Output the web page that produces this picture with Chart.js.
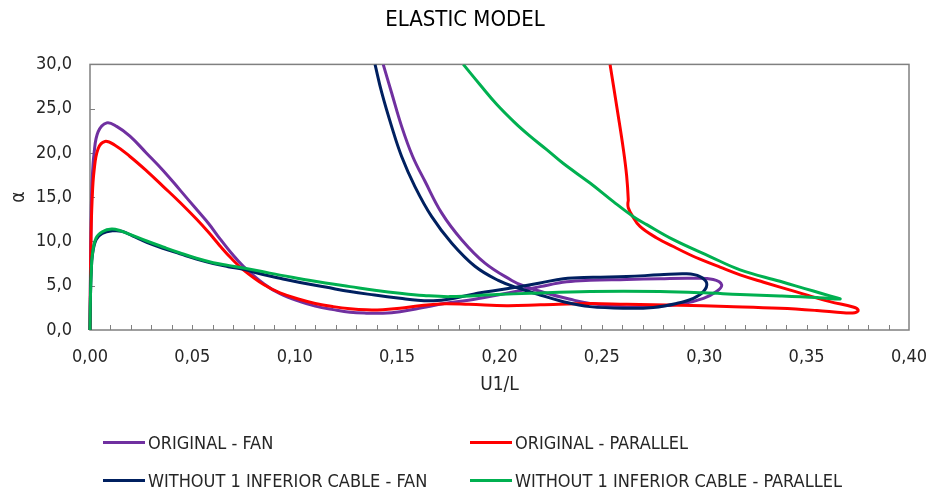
<!DOCTYPE html>
<html>
<head>
<meta charset="utf-8">
<title>Elastic model</title>
<script src="https://cdn.jsdelivr.net/npm/chart.js@4.4.1/dist/chart.umd.min.js"></script>
<style>
  html, body { margin: 0; padding: 0; background: #fff; }
  #wrap { position: relative; width: 930px; height: 491px; }
  #chart { display: block; }
  #legend {
    position: absolute; left: 0; top: 0; width: 930px; height: 491px;
    pointer-events: none; color: #262626; font-size: 18px;
    font-family: "DejaVu Sans Condensed", "Liberation Sans Narrow", sans-serif;
  }
  .item { position: absolute; display: flex; align-items: center; height: 24px; white-space: nowrap; }
  .swatch { width: 42px; height: 3px; margin-right: 3px; }
</style>
</head>
<body>
<div id="wrap">
  <canvas id="chart" width="930" height="491"></canvas>
  <div id="legend"></div>
</div>
<script>
const FONT = '"DejaVu Sans Condensed", "Liberation Sans Narrow", sans-serif';

// series names, in legend order
const seriesLabels = [
  'ORIGINAL - FAN',
  'ORIGINAL - PARALLEL',
  'WITHOUT 1 INFERIOR CABLE - FAN',
  'WITHOUT 1 INFERIOR CABLE - PARALLEL'
];
const seriesColors = ['#7030A0', '#FF0000', '#002060', '#00B050'];

// tick labels (comma decimals)
const xTickLabels = ['0,00', '0,05', '0,10', '0,15', '0,20', '0,25', '0,30', '0,35', '0,40'];
const yTickLabels = ['0,0', '5,0', '10,0', '15,0', '20,0', '25,0', '30,0'];

// ORIGINAL - FAN (U1/L, alpha) along the path
const origFanX = [0, 0.0002, 0.0005, 0.001, 0.002, 0.004, 0.0082, 0.013, 0.0195, 0.0275, 0.0358, 0.044, 0.0521, 0.058, 0.0635, 0.069, 0.0749, 0.085, 0.0928, 0.1026, 0.11, 0.1188, 0.127, 0.135, 0.143, 0.1514, 0.162, 0.173, 0.1872, 0.2035, 0.2198, 0.2328, 0.2442, 0.2621, 0.2784, 0.2947, 0.3044, 0.3085, 0.306, 0.2996, 0.2898, 0.2784, 0.2621, 0.2442, 0.234, 0.223, 0.2116, 0.206, 0.1929, 0.1815, 0.1718, 0.1636, 0.1576, 0.1522, 0.1473, 0.1432];
const origFanY = [0, 6, 12, 16.5, 20, 22.4, 23.4, 23.0, 21.9, 20.0, 18.0, 15.8, 13.6, 12.0, 10.3, 8.7, 7.2, 5.2, 4.1, 3.2, 2.7, 2.3, 2.0, 1.9, 1.9, 2.07, 2.5, 3.0, 3.45, 4.15, 4.9, 5.45, 5.62, 5.7, 5.8, 5.85, 5.7, 5.1, 4.34, 3.58, 3.0, 2.72, 2.6, 3.0, 3.5, 4.15, 5.0, 5.6, 7.55, 10.2, 13.2, 16.8, 19.6, 23.0, 26.8, 30];

// ORIGINAL - PARALLEL
const origParX = [0, 0.0002, 0.0005, 0.001, 0.002, 0.004, 0.0073, 0.012, 0.0195, 0.0275, 0.0358, 0.044, 0.0521, 0.058, 0.0635, 0.069, 0.0749, 0.085, 0.0928, 0.1026, 0.11, 0.1188, 0.127, 0.135, 0.143, 0.1514, 0.161, 0.1709, 0.185, 0.2035, 0.22, 0.2442, 0.2621, 0.288, 0.311, 0.337, 0.355, 0.368, 0.3735, 0.3752, 0.3727, 0.3614, 0.345, 0.329, 0.3175, 0.3077, 0.2979, 0.293, 0.2849, 0.2768, 0.2686, 0.2646, 0.2629, 0.2627, 0.2629, 0.2621, 0.2605, 0.2575, 0.254];
const origParY = [0, 5, 10.5, 14.5, 18, 20.5, 21.3, 20.9, 19.6, 18.0, 16.2, 14.4, 12.5, 11.0, 9.5, 8.1, 6.8, 5.1, 4.2, 3.45, 3.0, 2.64, 2.4, 2.28, 2.3, 2.45, 2.75, 2.95, 2.9, 2.75, 2.85, 3.0, 2.9, 2.8, 2.65, 2.45, 2.2, 1.95, 1.95, 2.25, 2.6, 3.2, 4.3, 5.4, 6.23, 7.1, 8.0, 8.5, 9.43, 10.4, 11.7, 13.0, 13.8, 14.3, 14.7, 17.4, 20.4, 24.9, 30];

// WITHOUT 1 INFERIOR CABLE - FAN
const noCabFanX = [0, 0.0002, 0.0006, 0.0012, 0.003, 0.006, 0.011, 0.0155, 0.021, 0.0277, 0.036, 0.044, 0.052, 0.0602, 0.0675, 0.0749, 0.084, 0.0928, 0.1026, 0.115, 0.127, 0.139, 0.1514, 0.16, 0.1677, 0.1758, 0.1872, 0.2035, 0.2198, 0.2312, 0.2458, 0.2621, 0.2784, 0.2914, 0.2979, 0.3012, 0.2996, 0.2947, 0.2865, 0.2751, 0.2621, 0.2442, 0.2312, 0.2198, 0.2084, 0.1994, 0.188, 0.1767, 0.1669, 0.1587, 0.1522, 0.1473, 0.1425, 0.1392];
const noCabFanY = [0, 3.5, 6.5, 8.5, 10.2, 10.9, 11.2, 11.15, 10.6, 9.9, 9.2, 8.6, 8.0, 7.5, 7.15, 6.85, 6.3, 5.85, 5.36, 4.85, 4.34, 3.95, 3.58, 3.35, 3.3, 3.5, 4.05, 4.65, 5.3, 5.8, 5.95, 6.04, 6.23, 6.34, 6.04, 5.28, 4.34, 3.58, 3.0, 2.55, 2.45, 2.64, 3.2, 3.96, 4.8, 5.6, 7.2, 9.8, 12.8, 16.2, 19.6, 23.0, 26.8, 30];

// WITHOUT 1 INFERIOR CABLE - PARALLEL
const noCabParX = [0, 0.0002, 0.0006, 0.0012, 0.003, 0.006, 0.0106, 0.015, 0.0195, 0.0277, 0.036, 0.044, 0.052, 0.0602, 0.0675, 0.0749, 0.084, 0.0928, 0.1026, 0.115, 0.127, 0.139, 0.1514, 0.163, 0.1758, 0.1986, 0.2149, 0.2442, 0.2784, 0.3, 0.3175, 0.337, 0.355, 0.3663, 0.3614, 0.3533, 0.345, 0.337, 0.3175, 0.3028, 0.2849, 0.2719, 0.2654, 0.2556, 0.2442, 0.2312, 0.2229, 0.2149, 0.2076, 0.1986, 0.1905, 0.1823];
const noCabParY = [0, 3.5, 6.5, 8.6, 10.4, 11.1, 11.4, 11.2, 10.8, 10.05, 9.35, 8.7, 8.1, 7.6, 7.3, 7.0, 6.6, 6.2, 5.8, 5.3, 4.9, 4.5, 4.15, 3.9, 3.77, 4.0, 4.15, 4.34, 4.34, 4.2, 4.0, 3.85, 3.67, 3.5, 3.85, 4.4, 4.95, 5.5, 6.8, 8.3, 10.2, 11.9, 12.8, 14.5, 16.6, 18.8, 20.4, 21.9, 23.4, 25.5, 27.7, 30];

const seriesX = [origFanX, origParX, noCabFanX, noCabParX];
const seriesY = [origFanY, origParY, noCabFanY, noCabParY];

function toPoints(xs, ys) {
  return xs.map(function(x, i) { return { x: x, y: ys[i] }; });
}

// frame round the plot area and small inward tick marks
const frameAndTicks = {
  id: 'frameAndTicks',
  beforeDatasetsDraw: function(chart) {
    const ctx = chart.ctx;
    const a = chart.chartArea;
    const xs = chart.scales.x;
    const ys = chart.scales.y;
    ctx.save();
    ctx.strokeStyle = '#808080';
    ctx.lineWidth = 1.5;
    ctx.strokeRect(a.left, a.top, a.right - a.left, a.bottom - a.top);
    ctx.lineWidth = 1;
    ctx.beginPath();
    for (let i = 1; i < 40; i++) {
      const px = Math.round(xs.getPixelForValue(i / 100)) + 0.5;
      ctx.moveTo(px, a.bottom);
      ctx.lineTo(px, a.bottom - 5);
    }
    for (let v = 5; v < 30; v += 5) {
      const py = Math.round(ys.getPixelForValue(v)) + 0.5;
      ctx.moveTo(a.left, py);
      ctx.lineTo(a.left + 5, py);
    }
    ctx.stroke();
    ctx.restore();
  }
};

const datasets = seriesLabels.map(function(label, i) {
  return {
    label: label,
    data: toPoints(seriesX[i], seriesY[i]),
    borderColor: seriesColors[i],
    backgroundColor: seriesColors[i],
    borderWidth: 3,
    showLine: true,
    pointRadius: 0,
    tension: 0.4,
    fill: false,
    clip: { left: 3, top: 0, right: 3, bottom: 3 },
    order: seriesLabels.length - i
  };
});

new Chart(document.getElementById('chart'), {
  type: 'scatter',
  data: { datasets: datasets },
  options: {
    responsive: false,
    animation: false,
    events: [],
    layout: { padding: { left: 21, right: 21, top: 0, bottom: 91 } },
    plugins: {
      legend: { display: false },
      tooltip: { enabled: false },
      title: {
        display: true,
        text: 'ELASTIC MODEL',
        color: '#000',
        font: { family: FONT, size: 22, weight: 'normal' },
        padding: { top: 7, bottom: 31 }
      }
    },
    scales: {
      x: {
        type: 'linear',
        min: 0,
        max: 0.4,
        grid: { display: false },
        border: { display: false },
        ticks: {
          stepSize: 0.05,
          padding: 9,
          color: '#262626',
          font: { family: FONT, size: 18 },
          maxRotation: 0,
          callback: function(value, index) {
            return xTickLabels[index] !== undefined ? xTickLabels[index] : value.toFixed(2).replace('.', ',');
          }
        },
        title: {
          display: true,
          text: 'U1/L',
          color: '#262626',
          font: { family: FONT, size: 19 },
          padding: { top: 0, bottom: 4 }
        },
        afterFit: function(scale) {
          scale.height = 70;
          scale.paddingLeft = 0;
          scale.paddingRight = 0;
        }
      },
      y: {
        type: 'linear',
        min: 0,
        max: 30,
        grid: { display: false },
        border: { display: false },
        ticks: {
          stepSize: 5,
          padding: 10,
          color: '#262626',
          font: { family: FONT, size: 18 },
          callback: function(value, index) {
            return yTickLabels[index] !== undefined ? yTickLabels[index] : value.toFixed(1).replace('.', ',');
          }
        },
        title: {
          display: true,
          text: 'α',
          color: '#262626',
          font: { family: FONT, size: 19 },
          padding: { top: -13, bottom: 0 }
        },
        afterFit: function(scale) {
          scale.width = 69;
          scale.paddingTop = 0;
          scale.paddingBottom = 0;
        }
      }
    }
  },
  plugins: [frameAndTicks]
});

// two-column legend below the chart, built from the series arrays
const legendCols = [103, 470];
const legendRows = [442, 480];
const legendBox = document.getElementById('legend');
seriesLabels.forEach(function(label, i) {
  const item = document.createElement('div');
  item.className = 'item';
  item.style.left = legendCols[i % 2] + 'px';
  item.style.top = (legendRows[Math.floor(i / 2)] - 12) + 'px';
  const sw = document.createElement('span');
  sw.className = 'swatch';
  sw.style.background = seriesColors[i];
  const tx = document.createElement('span');
  tx.textContent = label;
  item.appendChild(sw);
  item.appendChild(tx);
  legendBox.appendChild(item);
});
</script>
</body>
</html>
